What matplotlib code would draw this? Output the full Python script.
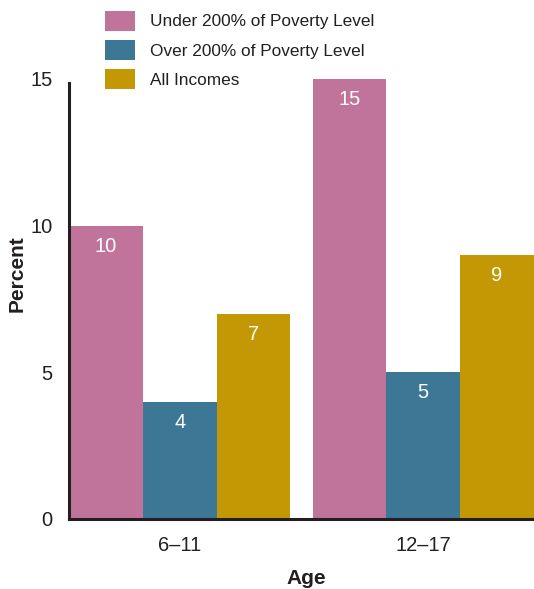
import numpy as np
import matplotlib
matplotlib.use("Agg")
import matplotlib.pyplot as plt

plt.rcParams["font.family"] = ["Liberation Sans", "DejaVu Sans"]

# data
age_groups = ["6\u201311", "12\u201317"]
series_names = [
    "Under 200% of Poverty Level",
    "Over 200% of Poverty Level",
    "All Incomes",
]
under_200 = [10, 15]
over_200 = [4, 5]
all_incomes = [7, 9]
series_colors = ["#C1749B", "#3C7896", "#C49805"]
y_ticks = [0, 5, 10, 15]

text_color = "#231F20"

W, H = 534, 589
fig = plt.figure(figsize=(W / 100, H / 100), dpi=100)
ax = fig.add_axes([69 / W, 70 / H, (W - 69) / W, 440 / H])

x = np.arange(len(age_groups))
width = 0.303
values = [under_200, over_200, all_incomes]

for i, (vals, name, col) in enumerate(zip(values, series_names, series_colors)):
    pos = x + (i - 1) * width
    bars = ax.bar(pos, vals, width, color=col, label=name, linewidth=0)
    for b, v in zip(bars, vals):
        ax.annotate(
            str(v),
            (b.get_x() + b.get_width() / 2, b.get_height()),
            xytext=(0, -8),
            textcoords="offset points",
            ha="center",
            va="top",
            color="white",
            fontsize=14.5,
        )

ax.set_xlim(-1.5 * width, 1 + 1.5 * width)
ax.set_ylim(0, 15)
ax.set_yticks(y_ticks)
ax.set_xticks(x)
ax.set_xticklabels(age_groups)

for s in ["top", "right"]:
    ax.spines[s].set_visible(False)
ax.spines["left"].set_bounds(0, 14.85)
for s in ["left", "bottom"]:
    ax.spines[s].set_linewidth(2.2)
    ax.spines[s].set_color(text_color)
    ax.spines[s].set_zorder(3)

ax.tick_params(axis="y", length=0, pad=12, labelsize=14.5, labelcolor=text_color)
ax.tick_params(axis="x", length=0, pad=12, labelsize=14.5, labelcolor=text_color)

fig.text(17 / W, 1 - 274 / H, "Percent", rotation=90, ha="center", va="center",
         fontsize=15, fontweight="bold", color=text_color)
fig.text(306 / W, 1 - 578 / H, "Age", ha="center", va="center",
         fontsize=15, fontweight="bold", color=text_color)

fs = 12.4
fpx = fs * 100 / 72
fig.legend(
    loc="upper left",
    bbox_to_anchor=(105 / W, 1 - 11 / H),
    frameon=False,
    fontsize=fs,
    handlelength=30 / fpx,
    handleheight=20 / fpx / 0.85,
    handletextpad=15 / fpx,
    labelspacing=9.5 / fpx,
    borderpad=0,
    borderaxespad=0,
    labelcolor=text_color,
)

fig.savefig("out.png", dpi=100)
